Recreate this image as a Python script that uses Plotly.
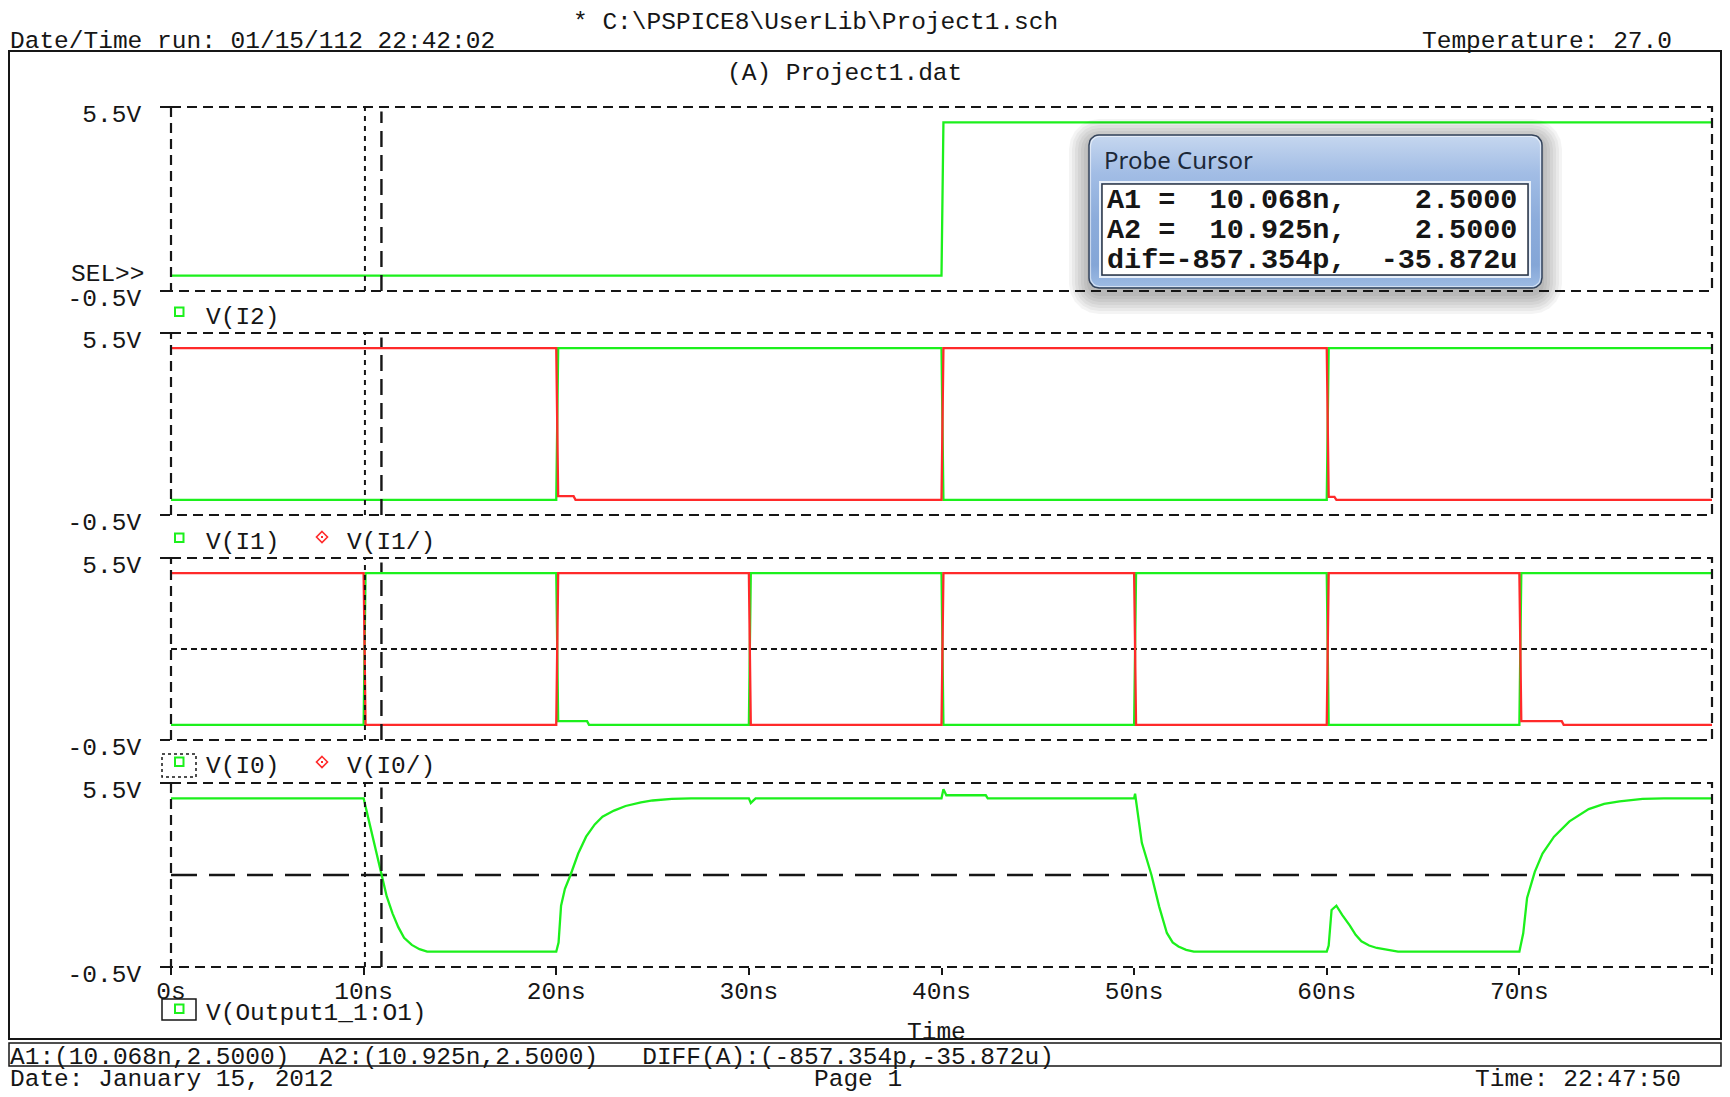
import numpy as np
import plotly.graph_objects as go

W, H = 1730, 1097

# ---------------- data (time in ns, volts) ----------------
t_i2 = [0, 40.0, 40.1, 80]
v_i2 = [0, 0, 5, 5]

t_i1 = [0, 20.0, 20.1, 40.0, 40.1, 60.0, 60.1, 80]
v_i1 = [0, 0, 5, 5, 0, 0, 5, 5]
t_i1n = [0, 20.0, 20.1, 20.9, 21.0, 40.0, 40.1, 60.0, 60.1, 60.4, 60.5, 80]
v_i1n = [5, 5, 0.12, 0.12, 0, 0, 5, 5, 0.1, 0.1, 0, 0]

t_i0 = [0, 10.0, 10.1, 20.0, 20.1, 21.6, 21.7, 30.0, 30.1, 40.0, 40.1, 50.0, 50.1,
        60.0, 60.1, 70.0, 70.1, 80]
v_i0 = [0, 0, 5, 5, 0.12, 0.12, 0, 0, 5, 5, 0, 0, 5, 5, 0, 0, 5, 5]
t_i0n = [0, 10.0, 10.1, 20.0, 20.1, 30.0, 30.1, 40.0, 40.1, 50.0, 50.1, 60.0, 60.1,
         70.0, 70.1, 72.2, 72.3, 80]
v_i0n = [5, 5, 0, 0, 5, 5, 0, 0, 5, 5, 0, 0, 5, 5, 0.12, 0.12, 0, 0]

t_out = [0, 10.0, 10.3, 10.6, 10.925, 11.2, 11.5, 11.8, 12.1, 12.5, 12.9, 13.3,
         20.0, 20.12, 20.25, 20.45, 20.74, 21.14, 21.55, 22.0, 22.4, 23.0, 23.6, 24.4,
         25.0, 26.0, 27.0, 30.0, 30.1, 30.35, 40.0, 40.1, 40.25, 42.3, 42.4,
         50.0, 50.05, 50.4, 50.9, 51.3, 51.7, 52.0, 52.3, 52.7, 53.1,
         60.0, 60.1, 60.25, 60.5, 60.8, 61.2, 61.5, 61.8, 62.2, 62.6, 63.2, 63.7,
         70.0, 70.2, 70.4, 70.8, 71.2, 71.8, 72.6, 73.6, 74.4, 75.2, 76.4, 77.5, 80]
v_out = [5, 5, 4.2, 3.4, 2.5, 1.8, 1.25, 0.8, 0.45, 0.22, 0.08, 0,
         0, 0.3, 1.5, 2.05, 2.5, 3.2, 3.75, 4.15, 4.4, 4.6, 4.75, 4.87,
         4.93, 4.98, 5.0, 5.0, 4.85, 5.0, 5.0, 5.3, 5.1, 5.1, 5.0,
         5.0, 5.15, 3.55, 2.5, 1.47, 0.61, 0.3, 0.17, 0.06, 0,
         0, 0.2, 1.36, 1.5, 1.2, 0.85, 0.55, 0.34, 0.2, 0.12, 0.05, 0,
         0, 0.6, 1.75, 2.6, 3.2, 3.75, 4.25, 4.65, 4.82, 4.9, 4.98, 5.0, 5.0]

x_ticks = [0, 10, 20, 30, 40, 50, 60, 70, 80]
x_tick_text = ["0s", "10ns", "20ns", "30ns", "40ns", "50ns", "60ns", "70ns", "80ns"]
y_ticks = [-0.5, 5.5]
y_tick_text = ["-0.5V", "5.5V"]

cursor_a1 = 10.068
cursor_a2 = 10.925
cursor_level = 2.5

GREEN = "#1cf01c"
RED = "#ff2a2a"
INK = "#161616"
MONO = "Liberation Mono"

# panel pixel boxes (top, bottom)
panels = [(107, 291), (333, 515), (558, 740), (783, 967)]
X0, X1 = 171, 1712


def nb(s):
    return s.replace(" ", "\u00a0")


fig = go.Figure()

series = [
    [(t_i2, v_i2, GREEN)],
    [(t_i1, v_i1, GREEN), (t_i1n, v_i1n, RED)],
    [(t_i0, v_i0, GREEN), (t_i0n, v_i0n, RED)],
    [(t_out, v_out, GREEN)],
]
for k, group in enumerate(series, start=1):
    for tt, vv, col in group:
        fig.add_trace(go.Scatter(x=tt, y=vv, mode="lines", xaxis="x",
                                 yaxis="y" if k == 1 else f"y{k}",
                                 line=dict(color=col, width=2.3),
                                 hoverinfo="skip", showlegend=False))


def rrect(x1, y1, x2, y2, r, n=8):
    pts = []
    corners = [(x2 - r, y1 + r, -90, 0), (x2 - r, y2 - r, 0, 90),
               (x1 + r, y2 - r, 90, 180), (x1 + r, y1 + r, 180, 270)]
    for cx, cy, a0, a1 in corners:
        for a in np.linspace(np.radians(a0), np.radians(a1), n):
            pts.append((cx + r * np.cos(a), cy + r * np.sin(a)))
    pts.append(pts[0])
    return [p[0] for p in pts], [p[1] for p in pts]


# dialog body with gradient (pixel overlay axes)
DX1, DY1, DX2, DY2 = 1089, 135, 1542, 288
bx, by = rrect(DX1, DY1, DX2, DY2, 10)
fig.add_trace(go.Scatter(
    x=bx, y=by, xaxis="x5", yaxis="y5", mode="lines", fill="toself",
    line=dict(color="#34435a", width=1.5),
    fillgradient=dict(type="vertical", start=DY1, stop=DY2,
                      colorscale=[[0, "#c6d7ef"], [0.25, "#a2bde5"], [0.55, "#8cacdb"],
                                  [0.85, "#84a6d7"], [1, "#9fbce4"]]),
    hoverinfo="skip", showlegend=False))
ix, iy = rrect(DX1 + 1.5, DY1 + 1.5, DX2 - 1.5, DY2 - 1.5, 9)
fig.add_trace(go.Scatter(x=ix, y=iy, xaxis="x5", yaxis="y5", mode="lines",
                         line=dict(color="rgba(255,255,255,0.55)", width=1.2),
                         hoverinfo="skip", showlegend=False))

shapes = []


def pshape(**kw):
    d = dict(xref="x5", yref="y5")
    d.update(kw)
    shapes.append(d)


# shadow of dialog
for i in range(7):
    e = 2 + i * 3
    sx, sy = rrect(DX1 - e, DY1 - e + 4, DX2 + e, DY2 + e + 6, 10 + e, 6)
    path = "M" + " L".join(f"{a:.1f},{b:.1f}" for a, b in zip(sx, sy)) + " Z"
    pshape(type="path", path=path, fillcolor="rgba(0,0,0,0.045)",
           line=dict(width=0), layer="below")

# panel borders (pixel coords, so the dashed lines are not clipped)
for top, bot in panels:
    pshape(type="rect", x0=X0, x1=X1, y0=top, y1=bot,
           line=dict(color=INK, width=2.2, dash="10px,6px"),
           fillcolor="rgba(0,0,0,0)", layer="below")

# cursors (data axes)
for k in range(1, 5):
    yr = "y" if k == 1 else f"y{k}"
    shapes.append(dict(type="line", xref="x", yref=yr, x0=cursor_a1, x1=cursor_a1,
                       y0=-0.5, y1=5.5, line=dict(color=INK, width=2, dash="5px,5px"),
                       layer="above"))
    shapes.append(dict(type="line", xref="x", yref=yr, x0=cursor_a2, x1=cursor_a2,
                       y0=-0.5, y1=5.35, line=dict(color=INK, width=2.4, dash="16px,8px"),
                       layer="above"))
shapes.append(dict(type="line", xref="x", yref="y3", x0=0, x1=80, y0=cursor_level,
                   y1=cursor_level, line=dict(color=INK, width=2, dash="6px,4px"),
                   layer="below"))
shapes.append(dict(type="line", xref="x", yref="y4", x0=0, x1=80, y0=cursor_level,
                   y1=cursor_level, line=dict(color=INK, width=2.6, dash="26px,12px"),
                   layer="below"))

# dialog inner white box
pshape(type="rect", x0=1100, y0=182, x1=1530, y1=277, fillcolor="rgba(0,0,0,0)",
       line=dict(color="#e8f0fa", width=2), layer="above")
pshape(type="rect", x0=1102, y0=184, x1=1528, y1=275, fillcolor="white",
       line=dict(color="#2c3644", width=1.5), layer="above")

# outer frame and status box
pshape(type="rect", x0=9, y0=51, x1=1721, y1=1039, line=dict(color=INK, width=2),
       fillcolor="rgba(0,0,0,0)", layer="above")
pshape(type="rect", x0=9, y0=1043, x1=1721, y1=1066, line=dict(color=INK, width=1.5),
       fillcolor="rgba(0,0,0,0)", layer="above")
# legend selection boxes
pshape(type="rect", x0=162, y0=754, x1=196, y1=777,
       line=dict(color=INK, width=1.5, dash="3px,3px"), fillcolor="white", layer="above")
pshape(type="rect", x0=162, y0=999, x1=196, y1=1020, line=dict(color=INK, width=1.5),
       fillcolor="white", layer="above")

# legend symbols
for my in [312, 538, 762, 1009]:
    pshape(type="rect", x0=175, x1=183.5, y0=my - 4.5, y1=my + 4, fillcolor="rgba(0,0,0,0)",
           line=dict(color=GREEN, width=2), layer="above")
for my in [537, 762]:
    cx = 322
    pshape(type="path", path=f"M{cx},{my-5.5} L{cx+5.5},{my} L{cx},{my+5.5} L{cx-5.5},{my} Z",
           fillcolor="rgba(0,0,0,0)", line=dict(color=RED, width=1.6), layer="above")
    pshape(type="rect", x0=cx - 1, x1=cx + 1, y0=my - 1, y1=my + 1, fillcolor=RED,
           line=dict(width=0), layer="above")

annotations = []


def txt(s, x, y, anchor="left", size=24.5, family=MONO, color=INK):
    annotations.append(dict(text=s, x=x, y=y, xref="x5", yref="y5", xanchor=anchor,
                            yanchor="middle", showarrow=False, borderpad=0,
                            font=dict(family=family, size=size, color=color)))


txt(nb("* C:\\PSPICE8\\UserLib\\Project1.sch"), 572, 22)
txt(nb("Date/Time run: 01/15/112 22:42:02"), 9, 41)
txt(nb("Temperature: 27.0"), 1421, 41)
txt(nb("(A) Project1.dat"), 726, 73)
txt("SEL&gt;&gt;", 146, 274, anchor="right")
txt("V(I2)", 205, 317)
txt("V(I1)", 205, 542)
txt("V(I1/)", 346, 542)
txt("V(I0)", 205, 766)
txt("V(I0/)", 346, 766)
txt("V(Output1_1:O1)", 205, 1013)
txt("Time", 936, 1032, anchor="center")
txt(nb("A1:(10.068n,2.5000)  A2:(10.925n,2.5000)   DIFF(A):(-857.354p,-35.872u)"), 9, 1057)
txt(nb("Date: January 15, 2012"), 9, 1079)
txt(nb("Page 1"), 813, 1079)
txt(nb("Time: 22:47:50"), 1474, 1079)
txt("Probe Cursor", 1103, 159, size=24, family="Noto Sans", color="#1c2838")
for i, line in enumerate(["A1 =  10.068n,    2.5000",
                          "A2 =  10.925n,    2.5000",
                          "dif=-857.354p,  -35.872u"]):
    txt("<b>" + nb(line) + "</b>", 1106, 200 + i * 30, size=28.5)

tickfont = dict(family=MONO, size=24.5, color=INK)
layout = dict(
    template="none",
    width=W, height=H, margin=dict(l=0, r=0, t=0, b=0, pad=0, autoexpand=False),
    paper_bgcolor="white", plot_bgcolor="rgba(0,0,0,0)", showlegend=False,
    xaxis=dict(domain=[X0 / W, X1 / W], range=[0, 80], anchor="y4",
               tickvals=x_ticks, ticktext=x_tick_text, ticks="outside", ticklen=7,
               tickwidth=1.5, tickcolor=INK, showgrid=False, zeroline=False,
               showline=False, tickfont=tickfont, fixedrange=True, automargin=False,
               ticklabelstandoff=-5),
    xaxis5=dict(domain=[0, 1], range=[0, W], anchor="y5", visible=False,
                fixedrange=True, automargin=False),
    yaxis5=dict(domain=[0, 1], range=[H, 0], anchor="x5", visible=False,
                fixedrange=True, automargin=False),
    shapes=shapes, annotations=annotations,
)
for k, (top, bot) in enumerate(panels, start=1):
    name = "yaxis" if k == 1 else f"yaxis{k}"
    layout[name] = dict(domain=[1 - bot / H, 1 - top / H], range=[-0.5, 5.5], anchor="x",
                        tickvals=y_ticks, ticktext=y_tick_text, ticks="outside", ticklen=10,
                        tickwidth=1.5, tickcolor=INK, showgrid=False, zeroline=False,
                        showline=False, tickfont=tickfont, fixedrange=True,
                        automargin=False, ticklabelstandoff=14, ticklabelshift=6)
fig.update_layout(**layout)
fig.write_html("out.html")
